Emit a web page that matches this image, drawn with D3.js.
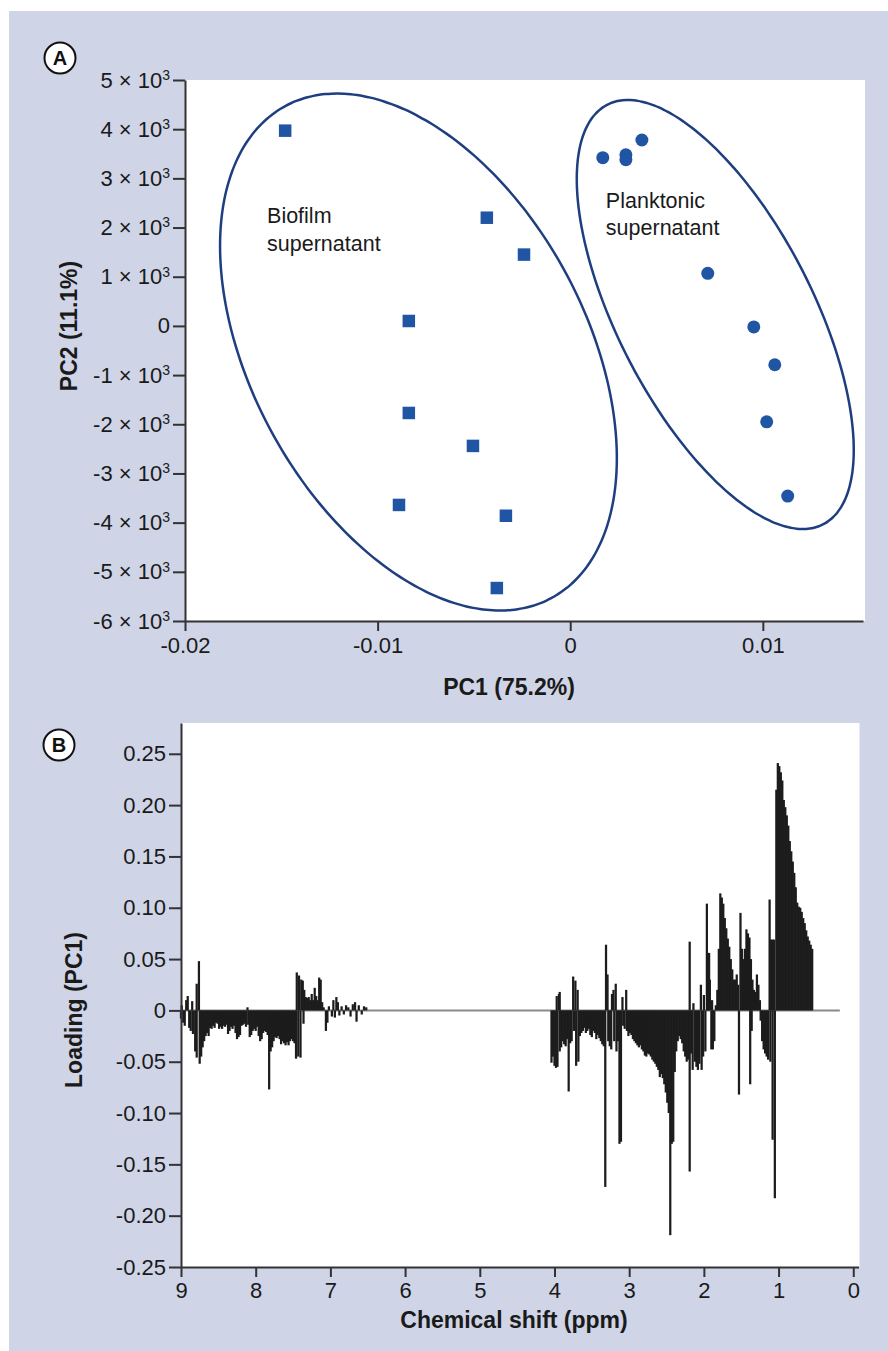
<!DOCTYPE html>
<html><head><meta charset="utf-8">
<script src="https://cdn.jsdelivr.net/npm/d3@7"></script>
<style>
html,body{margin:0;padding:0;background:#fff;}
svg{display:block;}
text{font-family:'Liberation Sans',Arial,Helvetica,sans-serif;}
</style></head><body>
<svg id="chart" width="888" height="1351"></svg>
<script>
// ---------------- DATA ----------------
// Panel A: PCA scores [PC1, PC2]
const biofilmPoints = [
  [-0.0148, 3970], [-0.00433, 2200], [-0.0024, 1450], [-0.00838, 100],
  [-0.00838, -1770], [-0.00505, -2440], [-0.00889, -3640], [-0.00334, -3860],
  [-0.00381, -5330]
];
const planktonicPoints = [
  [0.00169, 3420], [0.00289, 3480], [0.00289, 3380], [0.00372, 3780],
  [0.00714, 1070], [0.00953, -20], [0.01062, -790], [0.0102, -1950], [0.01129, -3460]
];
const pcaXTicks = [-0.02, -0.01, 0, 0.01];
const pcaYTicks = [-6000, -5000, -4000, -3000, -2000, -1000, 0, 1000, 2000, 3000, 4000, 5000];
// group ellipses: centre and two conjugate half-axis vectors, in data units
const biofilmEllipse = { c: [-0.00788, -531], u: [0.0103, -2157], v: [0, -4793] };
const planktonicEllipse = { c: [0.00753, 232], u: [0.00719, -2755], v: [0, -3381] };
const groupLabels = [
  { pos: [-0.01574, 2092], lines: ["Biofilm", "supernatant"] },
  { pos: [0.00185, 2400], lines: ["Planktonic", "supernatant"] }
];

// Panel B: PC1 loadings [chemical shift (ppm), loading]
const loadingShiftTicks = [9, 8, 7, 6, 5, 4, 3, 2, 1, 0];
const loadingTicks = [-0.25, -0.2, -0.15, -0.1, -0.05, 0, 0.05, 0.1, 0.15, 0.2, 0.25];
const baselineRange = [9, 0.18];
const loadingBars = [
  [9.00,-0.008],[8.99,0.005],[8.97,-0.012],[8.95,-0.015],[8.93,0.010],[8.91,0.014],[8.89,-0.017],[8.87,-0.020],
  [8.85,0.009],[8.84,-0.023],[8.81,-0.040],[8.79,0.026],[8.79,-0.046],[8.76,0.048],[8.75,-0.052],[8.73,-0.045],
  [8.71,-0.036],[8.69,-0.030],[8.67,-0.025],[8.65,-0.022],[8.63,-0.025],[8.61,-0.017],[8.59,-0.018],[8.57,-0.015],
  [8.55,-0.017],[8.53,-0.012],[8.51,-0.013],[8.49,-0.018],[8.47,-0.016],[8.45,-0.018],[8.43,-0.015],[8.41,-0.016],
  [8.39,-0.014],[8.37,-0.023],[8.35,-0.020],[8.33,-0.016],[8.31,-0.018],[8.29,-0.015],[8.27,-0.022],[8.25,-0.028],
  [8.23,-0.026],[8.21,-0.024],[8.19,-0.015],[8.17,-0.014],[8.15,-0.013],[8.13,-0.016],[8.11,0.003],[8.10,-0.014],
  [8.08,-0.026],[8.06,-0.024],[8.04,-0.020],[8.02,-0.018],[8.00,-0.020],[7.98,-0.016],[7.96,-0.025],[7.94,-0.030],
  [7.92,-0.028],[7.90,-0.022],[7.88,-0.020],[7.86,-0.021],[7.84,-0.024],[7.82,-0.077],[7.80,-0.040],[7.78,-0.036],
  [7.76,-0.030],[7.74,-0.026],[7.72,-0.027],[7.70,-0.025],[7.68,-0.028],[7.66,-0.033],[7.64,-0.030],[7.62,-0.032],
  [7.60,-0.034],[7.58,-0.031],[7.56,-0.034],[7.54,-0.030],[7.52,-0.028],[7.50,-0.030],[7.48,-0.032],[7.46,-0.047],
  [7.45,0.037],[7.43,-0.045],[7.42,0.034],[7.40,-0.046],[7.39,0.030],[7.37,0.029],[7.36,-0.013],[7.35,0.020],
  [7.33,0.013],[7.31,0.012],[7.29,0.013],[7.27,0.010],[7.25,0.016],[7.23,0.010],[7.21,0.022],[7.19,0.014],
  [7.17,0.010],[7.15,0.032],[7.13,0.030],[7.11,0.008],[7.09,0.003],[7.06,-0.020],[7.04,-0.012],[7.02,0.004],
  [6.98,-0.006],[6.96,0.010],[6.94,-0.007],[6.92,0.013],[6.90,0.008],[6.88,-0.005],[6.85,0.004],[6.82,-0.004],
  [6.79,0.005],[6.76,0.003],[6.73,-0.006],[6.70,0.006],[6.67,0.008],[6.65,-0.011],[6.62,0.005],[6.58,-0.004],
  [6.55,0.004],[6.52,0.003],
  [4.04,-0.051],[4.02,-0.045],[4.00,-0.054],[3.98,-0.056],[3.97,0.014],[3.96,-0.055],[3.94,0.016],[3.93,-0.040],
  [3.93,0.018],[3.91,-0.036],[3.89,-0.030],[3.87,-0.033],[3.85,-0.035],[3.83,-0.028],[3.81,-0.079],[3.79,-0.032],
  [3.77,-0.030],[3.75,0.033],[3.74,-0.020],[3.72,0.029],[3.71,-0.054],[3.69,0.020],[3.68,-0.050],[3.66,-0.025],
  [3.64,-0.022],[3.62,-0.020],[3.60,-0.017],[3.58,-0.022],[3.56,-0.020],[3.54,-0.018],[3.52,-0.024],[3.50,-0.026],
  [3.48,-0.020],[3.46,-0.022],[3.44,-0.028],[3.42,-0.024],[3.40,-0.027],[3.38,-0.030],[3.36,-0.033],[3.34,-0.035],
  [3.32,-0.172],[3.31,0.064],[3.29,0.035],[3.28,-0.030],[3.26,-0.035],[3.24,-0.038],[3.23,0.016],[3.21,0.020],
  [3.20,-0.030],[3.18,0.026],[3.17,-0.040],[3.15,-0.030],[3.13,-0.130],[3.11,-0.128],[3.09,0.013],[3.08,-0.015],
  [3.06,-0.018],[3.04,0.020],[3.03,-0.020],[3.01,-0.025],[2.99,-0.022],[2.97,-0.024],[2.95,-0.028],[2.93,-0.030],
  [2.91,-0.032],[2.89,-0.034],[2.87,-0.036],[2.85,-0.034],[2.83,-0.038],[2.81,-0.040],[2.79,-0.044],[2.77,-0.045],
  [2.75,-0.042],[2.73,-0.043],[2.71,-0.045],[2.69,-0.048],[2.67,-0.050],[2.65,-0.052],[2.63,-0.055],[2.61,-0.058],
  [2.59,-0.065],[2.57,-0.062],[2.55,-0.066],[2.53,-0.072],[2.51,-0.080],[2.49,-0.090],[2.47,-0.100],[2.45,-0.219],
  [2.43,-0.130],[2.41,-0.128],[2.39,-0.060],[2.37,-0.040],[2.35,-0.030],[2.33,-0.025],[2.31,-0.028],[2.29,-0.032],
  [2.27,-0.040],[2.25,-0.045],[2.23,-0.050],[2.21,-0.048],[2.19,-0.157],[2.19,0.067],[2.17,-0.042],[2.15,-0.058],
  [2.14,0.007],[2.12,-0.050],[2.10,-0.055],[2.08,-0.058],[2.06,-0.052],[2.04,0.025],[2.03,-0.058],[2.01,-0.045],
  [2.00,0.015],
  [1.98,-0.040],[1.96,0.104],[1.95,0.056],[1.93,0.056],[1.92,0.030],[1.90,-0.038],[1.89,0.010],[1.88,-0.038],
  [1.86,-0.030],[1.84,0.005],[1.82,0.020],[1.80,0.060],[1.78,0.114],[1.76,0.110],[1.74,0.104],[1.72,0.090],
  [1.70,0.080],[1.68,0.070],[1.66,0.062],[1.64,0.050],[1.62,0.040],[1.60,0.030],[1.58,0.030],[1.56,0.035],
  [1.54,0.025],[1.53,-0.082],[1.51,0.095],[1.49,0.060],[1.47,0.050],[1.45,0.060],[1.43,0.079],[1.41,0.075],
  [1.39,0.071],[1.38,-0.072],[1.37,0.050],[1.36,-0.020],[1.35,0.030],[1.33,0.020],[1.31,0.018],[1.29,0.035],
  [1.27,0.025],[1.25,0.010],[1.24,-0.010],[1.22,-0.030],[1.20,-0.038],[1.18,-0.042],[1.16,-0.045],[1.14,-0.048],
  [1.12,0.108],[1.11,-0.050],[1.10,0.069],[1.08,0.069],[1.08,-0.126],[1.06,0.069],[1.05,-0.183],[1.03,0.215],
  [1.01,0.241],[0.99,0.238],[0.97,0.232],[0.95,0.224],[0.93,0.205],[0.91,0.198],[0.89,0.190],[0.87,0.180],
  [0.85,0.165],[0.83,0.155],[0.81,0.145],[0.79,0.134],[0.77,0.120],[0.75,0.105],[0.73,0.101],[0.71,0.100],
  [0.69,0.096],[0.67,0.090],[0.65,0.085],[0.63,0.078],[0.61,0.072],[0.59,0.068],[0.57,0.064],[0.55,0.060]
];

// ---------------- DRAW ----------------
const svg = d3.select("#chart");
const FONT = "'Liberation Sans', Arial, Helvetica, sans-serif";
const AXIS_COLOR = "#333";
const TEXT_COLOR = "#1a1a1a";
const POINT_COLOR = "#2055a4";
const ELLIPSE_COLOR = "#1f3e80";

// lavender panel background
svg.append("rect").attr("x", 9).attr("y", 11).attr("width", 879).attr("height", 1340).attr("fill", "#cfd4e6");

function styleAxis(g) {
  g.select(".domain").attr("stroke", AXIS_COLOR).attr("stroke-width", 2);
  g.selectAll(".tick line").attr("stroke", AXIS_COLOR).attr("stroke-width", 2);
  g.selectAll(".tick text").attr("font-family", FONT).attr("font-size", 22).attr("fill", TEXT_COLOR);
}

function badge(cx, cy, letter) {
  svg.append("circle").attr("cx", cx).attr("cy", cy).attr("r", 15.5)
    .attr("fill", "#fff").attr("stroke", "#111").attr("stroke-width", 2);
  svg.append("text").attr("x", cx).attr("y", cy).attr("dy", "0.36em")
    .attr("text-anchor", "middle").attr("font-family", FONT).attr("font-weight", "bold")
    .attr("font-size", 20).attr("fill", "#111").text(letter);
}

// ===== Panel A =====
const xA = d3.scaleLinear().domain([-0.02, 0.0152]).range([185, 863]);
const yA = d3.scaleLinear().domain([-6000, 5000]).range([621, 80]);

svg.append("rect").attr("x", xA.range()[0]).attr("y", yA.range()[1])
  .attr("width", xA.range()[1] - xA.range()[0] + 2).attr("height", yA.range()[0] - yA.range()[1])
  .attr("fill", "#fff");

// ellipses
function ellipsePath(e) {
  const pts = d3.range(0, 361, 2).map(deg => {
    const t = deg * Math.PI / 180;
    return [e.c[0] + Math.cos(t) * e.u[0] + Math.sin(t) * e.v[0],
            e.c[1] + Math.cos(t) * e.u[1] + Math.sin(t) * e.v[1]];
  });
  return d3.line().x(d => xA(d[0])).y(d => yA(d[1])).curve(d3.curveCardinalClosed)(pts.slice(0, -1));
}
[biofilmEllipse, planktonicEllipse].forEach(e => {
  svg.append("path").attr("d", ellipsePath(e)).attr("fill", "none")
    .attr("stroke", ELLIPSE_COLOR).attr("stroke-width", 2.5);
});

// points
const sq = 12.5;
svg.append("g").selectAll("rect").data(biofilmPoints).join("rect")
  .attr("x", d => xA(d[0]) - sq / 2).attr("y", d => yA(d[1]) - sq / 2)
  .attr("width", sq).attr("height", sq).attr("fill", POINT_COLOR);
svg.append("g").selectAll("circle").data(planktonicPoints).join("circle")
  .attr("cx", d => xA(d[0])).attr("cy", d => yA(d[1])).attr("r", 6.5).attr("fill", POINT_COLOR);

// group labels
groupLabels.forEach(l => {
  const t = svg.append("text").attr("font-family", FONT).attr("font-size", 21.5).attr("fill", TEXT_COLOR);
  l.lines.forEach((s, i) => {
    t.append("tspan").attr("x", xA(l.pos[0])).attr("y", yA(l.pos[1]) + i * 27.5).text(s);
  });
});

// axes A
const gXA = svg.append("g").attr("transform", `translate(0,${yA.range()[0]})`)
  .call(d3.axisBottom(xA).tickValues(pcaXTicks).tickSize(10).tickSizeOuter(0).tickPadding(6)
    .tickFormat(d => d === 0 ? "0" : String(d)));
styleAxis(gXA);
const gYA = svg.append("g").attr("transform", `translate(${xA.range()[0]},0)`)
  .call(d3.axisLeft(yA).tickValues(pcaYTicks).tickSize(12).tickSizeOuter(0).tickPadding(3));
styleAxis(gYA);
gYA.selectAll(".tick text").each(function (d) {
  const t = d3.select(this);
  t.text(null);
  if (d === 0) { t.text("0"); return; }
  t.append("tspan").text(`${d / 1000} \u00d7 10`);
  t.append("tspan").attr("font-size", 14).attr("dy", "-0.55em").text("3");
});

svg.append("text").attr("x", 509).attr("y", 695).attr("text-anchor", "middle")
  .attr("font-family", FONT).attr("font-weight", "bold").attr("font-size", 23).attr("fill", TEXT_COLOR)
  .text("PC1 (75.2%)");
svg.append("text").attr("transform", "translate(77,326) rotate(-90)").attr("text-anchor", "middle")
  .attr("font-family", FONT).attr("font-weight", "bold").attr("font-size", 23).attr("fill", TEXT_COLOR)
  .text("PC2 (11.1%)");
badge(60, 58, "A");

// ===== Panel B =====
const xB = d3.scaleLinear().domain([9, -0.07]).range([181, 858.5]);
const yB = d3.scaleLinear().domain([-0.25, 0.28]).range([1267, 723]);

svg.append("rect").attr("x", xB.range()[0]).attr("y", yB.range()[1])
  .attr("width", xB.range()[1] - xB.range()[0] + 1).attr("height", yB.range()[0] - yB.range()[1])
  .attr("fill", "#fff");

// zero baseline
svg.append("line").attr("x1", xB(baselineRange[0])).attr("x2", xB(baselineRange[1]))
  .attr("y1", yB(0)).attr("y2", yB(0)).attr("stroke", "#8a8a8a").attr("stroke-width", 2);

// loading bars
const barW = Math.abs(xB(0) - xB(0.03));
svg.append("g").selectAll("rect").data(loadingBars).join("rect")
  .attr("x", d => xB(d[0]) - barW / 2)
  .attr("y", d => yB(Math.max(0, d[1])))
  .attr("width", barW)
  .attr("height", d => Math.abs(yB(d[1]) - yB(0)))
  .attr("fill", "#1c1c1c");

const gXB = svg.append("g").attr("transform", `translate(0,${yB.range()[0]})`)
  .call(d3.axisBottom(xB).tickValues(loadingShiftTicks).tickSize(10).tickSizeOuter(0).tickPadding(5)
    .tickFormat(d => String(d)));
styleAxis(gXB);
const gYB = svg.append("g").attr("transform", `translate(${xB.range()[0]},0)`)
  .call(d3.axisLeft(yB).tickValues(loadingTicks).tickSize(12).tickSizeOuter(0).tickPadding(3)
    .tickFormat(d => Math.abs(d) < 1e-9 ? "0" : d.toFixed(2)));
styleAxis(gYB);

svg.append("text").attr("x", 514).attr("y", 1328).attr("text-anchor", "middle")
  .attr("font-family", FONT).attr("font-weight", "bold").attr("font-size", 23).attr("fill", TEXT_COLOR)
  .text("Chemical shift (ppm)");
svg.append("text").attr("transform", "translate(82,1010) rotate(-90)").attr("text-anchor", "middle")
  .attr("font-family", FONT).attr("font-weight", "bold").attr("font-size", 23).attr("fill", TEXT_COLOR)
  .text("Loading (PC1)");
badge(59, 745, "B");
</script>
</body></html>
